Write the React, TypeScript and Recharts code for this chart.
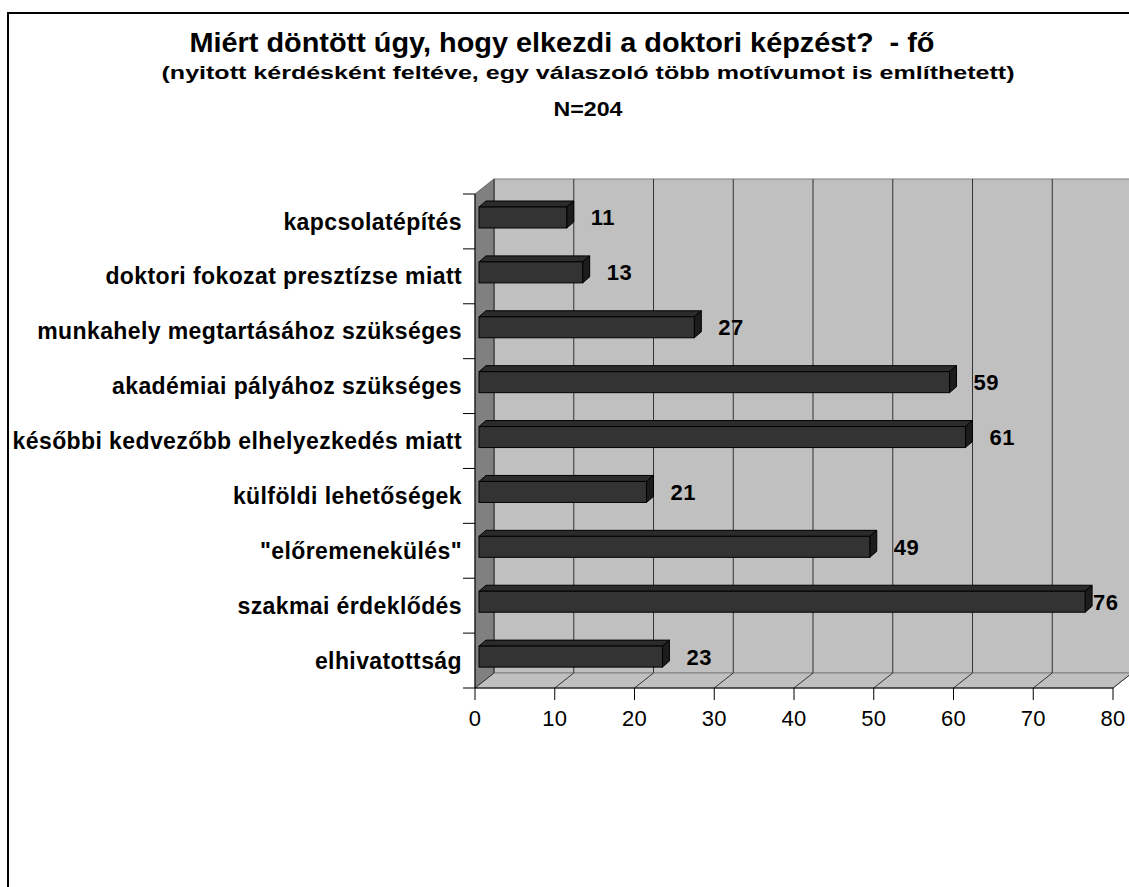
import React from "react";
import {
  BarChart, Bar, XAxis, YAxis, ReferenceArea, ReferenceLine, LabelList
} from "recharts";

// categories, top to bottom as in the chart
const categories = [
  "kapcsolatépítés",
  "doktori fokozat presztízse miatt",
  "munkahely megtartásához szükséges",
  "akadémiai pályához szükséges",
  "későbbi kedvezőbb elhelyezkedés miatt",
  "külföldi lehetőségek",
  "\"előremenekülés\"",
  "szakmai érdeklődés",
  "elhivatottság",
];
const counts = [11, 13, 27, 59, 61, 21, 49, 76, 23];
const xTicks = [0, 10, 20, 30, 40, 50, 60, 70, 80];

const title = "Miért döntött úgy, hogy elkezdi a doktori képzést?  - fő";
const subtitle = "(nyitott kérdésként feltéve, egy válaszoló több motívumot is említhetett)";
const nLabel = "N=204";

const data = categories.map((name, i) => ({ name, value: counts[i] }));

// 3D depth of the walls and of the bars
const DX = 19;
const DY = 15;
const BDX = 7;
const BDY = 6;
const FONT = "'Liberation Sans', Arial, sans-serif";

// back wall, left wall, floor and category boundary ticks
const Walls = (props: any) => {
  const { x, y, width, height } = props;
  const bottom = y + height;
  const right = x + width;
  const step = height / categories.length;
  return (
    <g>
      <rect x={x + DX} y={y - DY} width={width} height={height} fill="#c0c0c0" stroke="#808080" />
      <polygon
        points={`${x},${y} ${x + DX},${y - DY} ${x + DX},${bottom - DY} ${x},${bottom}`}
        fill="#808080" stroke="#666"
      />
      <polygon
        points={`${x},${bottom} ${right},${bottom} ${right + DX},${bottom - DY} ${x + DX},${bottom - DY}`}
        fill="#c0c0c0" stroke="#808080"
      />
      {categories.concat([""]).map((_, i) => (
        <line key={i} x1={x - 12} x2={x} y1={y + i * step} y2={y + i * step} stroke="#000" />
      ))}
    </g>
  );
};

const GridLine3D = (props: any) => {
  const { x1, x2, y1, y2 } = props;
  const top = Math.min(y1, y2);
  const bot = Math.max(y1, y2);
  return (
    <g>
      <line x1={x1 + DX} x2={x2 + DX} y1={top - DY} y2={bot - DY} stroke="#333" />
      <line x1={x1} x2={x1 + DX} y1={bot} y2={bot - DY} stroke="#333" />
    </g>
  );
};

const Bar3D = (props: any) => {
  const { x, y, width, height } = props;
  const fx = x + 4;
  const fy = y - 4;
  const r = fx + width;
  return (
    <g>
      <polygon
        points={`${fx},${fy} ${fx + BDX},${fy - BDY} ${r + BDX},${fy - BDY} ${r},${fy}`}
        fill="#2b2b2b" stroke="#000"
      />
      <polygon
        points={`${r},${fy} ${r + BDX},${fy - BDY} ${r + BDX},${fy + height - BDY} ${r},${fy + height}`}
        fill="#1c1c1c" stroke="#000"
      />
      <rect x={fx} y={fy} width={width} height={height} fill="#333333" stroke="#000" />
    </g>
  );
};

const ValueLabel = (props: any) => {
  const { x, y, width, height, value } = props;
  const tx = Math.min(x + width + 28, 1093);
  return (
    <text
      x={tx} y={y - 4 + height / 2} dy="0.36em"
      fontFamily={FONT} fontWeight="bold" fontSize={22} letterSpacing={0.5} fill="#000"
    >
      {value}
    </text>
  );
};

export default function App() {
  return (
    <div style={{
      position: "fixed", left: 0, top: 0, width: 1129, height: 887,
      overflow: "hidden", background: "#fff", fontFamily: FONT
    }}>
      <div style={{
        position: "absolute", left: 7, top: 12, width: 1300, height: 1000,
        border: "2px solid #000", boxSizing: "border-box"
      }} />
      <svg width={1129} height={140} style={{ position: "absolute", left: 0, top: 0 }}>
        <g fontFamily={FONT} fontWeight="bold" textAnchor="middle">
          <text x={562} y={52} fontSize={28} xmlSpace="preserve" textLength={745} lengthAdjust="spacingAndGlyphs">{title}</text>
          <text x={588} y={79} fontSize={19} textLength={853} lengthAdjust="spacingAndGlyphs">{subtitle}</text>
          <text x={588} y={116} fontSize={21} textLength={69} lengthAdjust="spacingAndGlyphs">{nLabel}</text>
        </g>
      </svg>
      <div style={{ position: "absolute", left: 0, top: 0 }}>
        <BarChart
          width={1129} height={887} data={data} layout="vertical"
          margin={{ top: 194, right: 16, left: 15, bottom: 169 }}
          barSize={21}
        >
          <XAxis
            type="number" domain={[0, 80]} ticks={xTicks} interval={0}
            axisLine={{ stroke: "#000" }} tickLine={{ stroke: "#000" }}
            tickSize={12} tickMargin={10} height={30}
            tick={{ fill: "#000", fontSize: 22, fontFamily: FONT, letterSpacing: 0.3 }}
          />
          <YAxis
            type="category" dataKey="name" width={460} interval={0}
            axisLine={{ stroke: "#000" }} tickLine={false} tickSize={12} tickMargin={1}
            tick={{ fill: "#000", fontSize: 23, fontWeight: "bold", fontFamily: FONT, letterSpacing: 0.4 }}
          />
          <ReferenceArea x1={0} x2={80} shape={Walls} fillOpacity={1} zIndex={-200} />
          {xTicks.map((t) => (
            <ReferenceLine key={t} x={t} shape={GridLine3D} zIndex={-150} />
          ))}
          <Bar dataKey="value" shape={Bar3D} isAnimationActive={false}>
            <LabelList dataKey="value" content={ValueLabel} />
          </Bar>
        </BarChart>
      </div>
    </div>
  );
}
